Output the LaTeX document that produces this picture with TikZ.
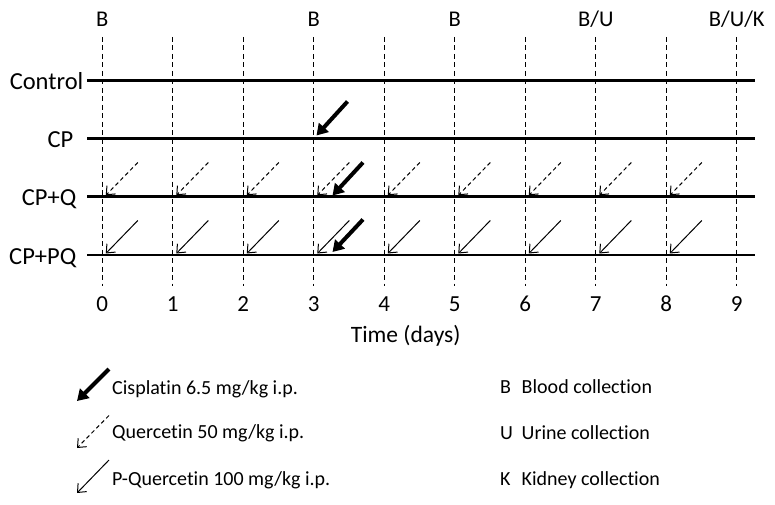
\documentclass[tikz,border=0pt]{standalone}
\usepackage{fontspec}
\setmainfont{Carlito}[Ligatures=NoCommon]
\usetikzlibrary{arrows.meta}
\begin{document}
\begin{tikzpicture}[x=1pt,y=-1pt,
  rowline/.style={line width=2.5pt},
  dayline/.style={line width=1.1pt, dash pattern=on 5pt off 3.5pt},
  thinarrow/.style={line width=1pt, -{Straight Barb[length=7pt,width=12pt]}},
  dasharrow/.style={thinarrow, dash pattern=on 4pt off 3pt},
  thickarrow/.style={line width=4pt, -{Triangle[length=11pt,width=13pt]}},
  rowlabel/.style={anchor=base east, font=\fontsize{24.5}{28}\selectfont, inner sep=0pt},
  toplabel/.style={anchor=base, font=\fontsize{22.5}{26}\selectfont, inner sep=0pt},
  numlabel/.style={anchor=base, font=\fontsize{23}{26}\selectfont, inner sep=0pt},
  legtext/.style={anchor=base west, font=\fontsize{20}{23}\selectfont, inner sep=0pt}
]
\useasboundingbox (0,0) rectangle (775,505);
% day lines and numbers
\foreach \d in {0,...,9} {
  \coordinate (top\d) at (102.3+70.5*\d, 37);
  \coordinate (bot\d) at (102.3+70.5*\d, 286);
  \draw[dayline] (top\d) -- (bot\d);
  \node[numlabel] (n\d) at (102.3+70.5*\d, 311.5) {\d};
}
% rows
\foreach \r/\y in {1/80.7, 2/138.7, 3/196.7, 4/255} {
  \coordinate (rowL\r) at (87,\y);
  \coordinate (rowR\r) at (755,\y);
  \draw[rowline] (rowL\r) -- (rowR\r);
}
\node[rowlabel] (lab1) at (83.5,89.3) {Control};
\node[rowlabel] (lab2) at (73.5,147.3) {CP};
\node[rowlabel] (lab3) at (76.5,205.7) {CP+Q};
\node[rowlabel] (lab4) at (76.5,264) {CP+PQ};
% top labels
\node[toplabel] (t0) at (102.3,26.8) {B};
\node[toplabel] (t3) at (313.8,26.8) {B};
\node[toplabel] (t5) at (454.8,26.8) {B};
\node[toplabel] (t7) at (595.8,26.8) {B/U};
\node[toplabel] (t9) at (736.8,26.8) {B/U/K};
% quercetin arrows
\foreach \d in {0,...,8} {
  \coordinate (qs\d) at (102.3+70.5*\d+35.5, 162.5);
  \coordinate (qe\d) at (102.3+70.5*\d+3.5, 195.3);
  \draw[dasharrow] (qs\d) -- (qe\d);
  \coordinate (ps\d) at (102.3+70.5*\d+35.5, 220.5);
  \coordinate (pe\d) at (102.3+70.5*\d+3.5, 253.5);
  \draw[thinarrow] (ps\d) -- (pe\d);
}
% cisplatin arrows
\coordinate (c2s) at (347.5,101.5);
\coordinate (c2e) at (316.5,135.5);
\coordinate (c3s) at (363,162.5);
\coordinate (c3e) at (332.5,195.5);
\coordinate (c4s) at (363,219.5);
\coordinate (c4e) at (332.5,252);
\draw[thickarrow] (c2s) -- (c2e);
\draw[thickarrow] (c3s) -- (c3e);
\draw[thickarrow] (c4s) -- (c4e);
% axis title
\node[anchor=base, font=\fontsize{23.5}{27}\selectfont, inner sep=0pt] (time) at (405.7,342.3) {Time (days)};
% legend
\coordinate (l1s) at (109,369); \coordinate (l1e) at (77,401);
\coordinate (l2s) at (109,415.5); \coordinate (l2e) at (77,448);
\coordinate (l3s) at (109,460); \coordinate (l3e) at (77,493);
\draw[thickarrow] (l1s) -- (l1e);
\draw[dasharrow] (l2s) -- (l2e);
\draw[thinarrow] (l3s) -- (l3e);
\node[legtext] (lt1) at (112,394) {Cisplatin 6.5 mg/kg i.p.};
\node[legtext] (lt2) at (112,438.3) {Quercetin 50 mg/kg i.p.};
\node[legtext] (lt3) at (112,485) {P-Quercetin 100 mg/kg i.p.};
\node[legtext] (lk1) at (500,393.3) {B};
\node[legtext] (lk2) at (500,439.3) {U};
\node[legtext] (lk3) at (500,485) {K};
\node[legtext] (ld1) at (521.5,393.3) {Blood collection};
\node[legtext] (ld2) at (521.5,439.3) {Urine collection};
\node[legtext] (ld3) at (521.5,485) {Kidney collection};
\end{tikzpicture}
\end{document}
